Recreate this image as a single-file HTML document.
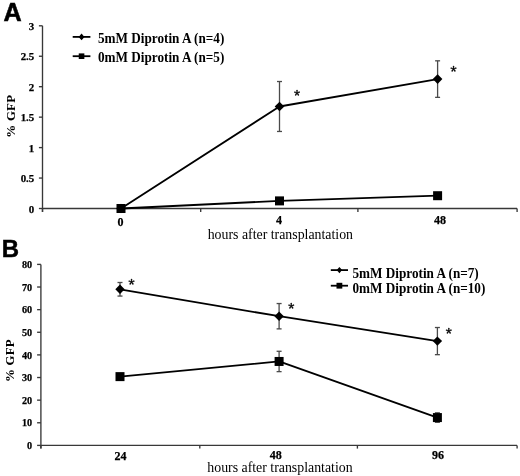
<!DOCTYPE html>
<html><head><meta charset="utf-8"><style>
html,body{margin:0;padding:0;background:#fff;}
body{width:520px;height:476px;overflow:hidden;}
svg{display:block;}
.tl{font-family:'Liberation Serif', 'Times New Roman', serif;font-weight:bold;font-size:10.8px;fill:#000;stroke:#000;stroke-width:0.25px;}
.xl{font-family:'Liberation Serif', 'Times New Roman', serif;font-weight:bold;font-size:12px;fill:#000;stroke:#000;stroke-width:0.25px;}
.xt{font-family:'Liberation Serif', 'Times New Roman', serif;font-size:13.85px;fill:#000;}
.yt{font-family:'Liberation Serif', 'Times New Roman', serif;font-weight:bold;font-size:12.9px;fill:#000;letter-spacing:0.2px;}
.lg{font-family:'Liberation Serif', 'Times New Roman', serif;font-weight:bold;fill:#000;}
.st{font-family:'Noto Serif CJK SC','Liberation Serif',serif;font-weight:bold;font-size:12.5px;fill:#000;stroke:#000;stroke-width:0.35px;}
.pl{font-family:'Liberation Sans', Arial, sans-serif;font-weight:bold;font-size:24.7px;fill:#000;stroke:#000;stroke-width:0.5px;}
</style></head><body>
<svg width="520" height="476" viewBox="0 0 520 476">
<rect width="520" height="476" fill="#fff"/>
<text transform="translate(3.4,20.7) scale(1.02,1.07)" class="pl">A</text>
<text transform="translate(1.7,257.0) scale(0.97,1.0)" class="pl">B</text>
<line x1="42.5" y1="25.8" x2="42.5" y2="212.0" stroke="#383838" stroke-width="1.35"/>
<line x1="38.9" y1="208.50" x2="42.5" y2="208.50" stroke="#383838" stroke-width="1.35"/>
<text x="34.3" y="212.50" text-anchor="end" class="tl" style="font-size:10.9px">0</text>
<line x1="38.9" y1="178.05" x2="42.5" y2="178.05" stroke="#383838" stroke-width="1.35"/>
<text x="34.3" y="182.05" text-anchor="end" class="tl" style="font-size:10.9px">0.5</text>
<line x1="38.9" y1="147.60" x2="42.5" y2="147.60" stroke="#383838" stroke-width="1.35"/>
<text x="34.3" y="151.60" text-anchor="end" class="tl" style="font-size:10.9px">1</text>
<line x1="38.9" y1="117.15" x2="42.5" y2="117.15" stroke="#383838" stroke-width="1.35"/>
<text x="34.3" y="121.15" text-anchor="end" class="tl" style="font-size:10.9px">1.5</text>
<line x1="38.9" y1="86.70" x2="42.5" y2="86.70" stroke="#383838" stroke-width="1.35"/>
<text x="34.3" y="90.70" text-anchor="end" class="tl" style="font-size:10.9px">2</text>
<line x1="38.9" y1="56.25" x2="42.5" y2="56.25" stroke="#383838" stroke-width="1.35"/>
<text x="34.3" y="60.25" text-anchor="end" class="tl" style="font-size:10.9px">2.5</text>
<line x1="38.9" y1="25.80" x2="42.5" y2="25.80" stroke="#383838" stroke-width="1.35"/>
<text x="34.3" y="29.80" text-anchor="end" class="tl" style="font-size:10.9px">3</text>
<line x1="42.5" y1="208.5" x2="517.1" y2="208.5" stroke="#383838" stroke-width="1.35"/>
<line x1="42.50" y1="208.5" x2="42.50" y2="212.0" stroke="#383838" stroke-width="1.35"/>
<line x1="200.70" y1="208.5" x2="200.70" y2="212.0" stroke="#383838" stroke-width="1.35"/>
<line x1="357.90" y1="208.5" x2="357.90" y2="212.0" stroke="#383838" stroke-width="1.35"/>
<line x1="517.10" y1="208.5" x2="517.10" y2="212.0" stroke="#383838" stroke-width="1.35"/>
<text x="120.40" y="226.00" text-anchor="middle" class="xl">0</text>
<text x="279.00" y="223.60" text-anchor="middle" class="xl">4</text>
<text x="440.00" y="223.60" text-anchor="middle" class="xl">48</text>
<text x="207.7" y="239.2" class="xt">hours after transplantation</text>
<text transform="translate(14.8,116.2) rotate(-90)" text-anchor="middle" class="yt">% GFP</text>
<line x1="279.50" y1="81.52" x2="279.50" y2="131.46" stroke="#4a4a4a" stroke-width="1.3"/>
<line x1="277.00" y1="81.52" x2="282.00" y2="81.52" stroke="#4a4a4a" stroke-width="1.3"/>
<line x1="277.00" y1="131.46" x2="282.00" y2="131.46" stroke="#4a4a4a" stroke-width="1.3"/>
<line x1="437.60" y1="60.82" x2="437.60" y2="97.36" stroke="#4a4a4a" stroke-width="1.3"/>
<line x1="435.10" y1="60.82" x2="440.10" y2="60.82" stroke="#4a4a4a" stroke-width="1.3"/>
<line x1="435.10" y1="97.36" x2="440.10" y2="97.36" stroke="#4a4a4a" stroke-width="1.3"/>
<polyline points="121.00,208.50 279.50,106.49 437.60,79.09" fill="none" stroke="#000" stroke-width="1.8" stroke-linejoin="round"/>
<polygon points="121.00,203.70 125.80,208.50 121.00,213.30 116.20,208.50" fill="#000"/>
<polygon points="279.50,101.69 284.30,106.49 279.50,111.29 274.70,106.49" fill="#000"/>
<polygon points="437.60,74.29 442.40,79.09 437.60,83.89 432.80,79.09" fill="#000"/>
<polyline points="121.00,208.50 279.50,200.89 437.60,195.71" fill="none" stroke="#000" stroke-width="1.8" stroke-linejoin="round"/>
<rect x="116.50" y="204.00" width="9.00" height="9.00" fill="#000"/>
<rect x="275.00" y="196.39" width="9.00" height="9.00" fill="#000"/>
<rect x="433.10" y="191.21" width="9.00" height="9.00" fill="#000"/>
<text x="297.1" y="100.2" text-anchor="middle" class="st">*</text>
<text x="453.6" y="75.6" text-anchor="middle" class="st">*</text>
<line x1="72.7" y1="36.9" x2="90.4" y2="36.9" stroke="#000" stroke-width="1.8"/>
<polygon points="81.55,33.50 84.45,36.90 81.55,40.30 78.65,36.90" fill="#000"/>
<text transform="translate(98,43.00) scale(1,1.05)" class="lg" style="font-size:13.2px">5mM Diprotin A (n=4)</text>
<line x1="72.7" y1="56.2" x2="90.4" y2="56.2" stroke="#000" stroke-width="1.8"/>
<rect x="78.75" y="53.40" width="5.60" height="5.60" fill="#000"/>
<text transform="translate(98,62.30) scale(1,1.05)" class="lg" style="font-size:13.2px">0mM Diprotin A (n=5)</text>
<line x1="40.9" y1="264.4" x2="40.9" y2="448.59999999999997" stroke="#383838" stroke-width="1.35"/>
<line x1="37.1" y1="445.40" x2="40.9" y2="445.40" stroke="#383838" stroke-width="1.35"/>
<text x="32.2" y="449.00" text-anchor="end" class="tl" style="font-size:10.2px">0</text>
<line x1="37.1" y1="422.77" x2="40.9" y2="422.77" stroke="#383838" stroke-width="1.35"/>
<text x="32.2" y="426.38" text-anchor="end" class="tl" style="font-size:10.2px">10</text>
<line x1="37.1" y1="400.15" x2="40.9" y2="400.15" stroke="#383838" stroke-width="1.35"/>
<text x="32.2" y="403.75" text-anchor="end" class="tl" style="font-size:10.2px">20</text>
<line x1="37.1" y1="377.52" x2="40.9" y2="377.52" stroke="#383838" stroke-width="1.35"/>
<text x="32.2" y="381.12" text-anchor="end" class="tl" style="font-size:10.2px">30</text>
<line x1="37.1" y1="354.90" x2="40.9" y2="354.90" stroke="#383838" stroke-width="1.35"/>
<text x="32.2" y="358.50" text-anchor="end" class="tl" style="font-size:10.2px">40</text>
<line x1="37.1" y1="332.27" x2="40.9" y2="332.27" stroke="#383838" stroke-width="1.35"/>
<text x="32.2" y="335.88" text-anchor="end" class="tl" style="font-size:10.2px">50</text>
<line x1="37.1" y1="309.65" x2="40.9" y2="309.65" stroke="#383838" stroke-width="1.35"/>
<text x="32.2" y="313.25" text-anchor="end" class="tl" style="font-size:10.2px">60</text>
<line x1="37.1" y1="287.02" x2="40.9" y2="287.02" stroke="#383838" stroke-width="1.35"/>
<text x="32.2" y="290.62" text-anchor="end" class="tl" style="font-size:10.2px">70</text>
<line x1="37.1" y1="264.40" x2="40.9" y2="264.40" stroke="#383838" stroke-width="1.35"/>
<text x="32.2" y="268.00" text-anchor="end" class="tl" style="font-size:10.2px">80</text>
<line x1="40.9" y1="445.4" x2="517.1" y2="445.4" stroke="#383838" stroke-width="1.35"/>
<line x1="40.90" y1="445.4" x2="40.90" y2="448.59999999999997" stroke="#383838" stroke-width="1.35"/>
<line x1="199.80" y1="445.4" x2="199.80" y2="448.59999999999997" stroke="#383838" stroke-width="1.35"/>
<line x1="357.40" y1="445.4" x2="357.40" y2="448.59999999999997" stroke="#383838" stroke-width="1.35"/>
<line x1="517.10" y1="445.4" x2="517.10" y2="448.59999999999997" stroke="#383838" stroke-width="1.35"/>
<text x="120.40" y="460.00" text-anchor="middle" class="xl">24</text>
<text x="275.80" y="459.40" text-anchor="middle" class="xl">48</text>
<text x="438.00" y="459.40" text-anchor="middle" class="xl">96</text>
<text x="207.3" y="472.4" class="xt">hours after transplantation</text>
<text transform="translate(13.6,360.6) rotate(-90)" text-anchor="middle" class="yt">% GFP</text>
<line x1="120.00" y1="282.50" x2="120.00" y2="296.07" stroke="#4a4a4a" stroke-width="1.3"/>
<line x1="117.50" y1="282.50" x2="122.50" y2="282.50" stroke="#4a4a4a" stroke-width="1.3"/>
<line x1="117.50" y1="296.07" x2="122.50" y2="296.07" stroke="#4a4a4a" stroke-width="1.3"/>
<line x1="279.10" y1="303.54" x2="279.10" y2="328.88" stroke="#4a4a4a" stroke-width="1.3"/>
<line x1="276.60" y1="303.54" x2="281.60" y2="303.54" stroke="#4a4a4a" stroke-width="1.3"/>
<line x1="276.60" y1="328.88" x2="281.60" y2="328.88" stroke="#4a4a4a" stroke-width="1.3"/>
<line x1="437.40" y1="327.52" x2="437.40" y2="354.67" stroke="#4a4a4a" stroke-width="1.3"/>
<line x1="434.90" y1="327.52" x2="439.90" y2="327.52" stroke="#4a4a4a" stroke-width="1.3"/>
<line x1="434.90" y1="354.67" x2="439.90" y2="354.67" stroke="#4a4a4a" stroke-width="1.3"/>
<polyline points="120.00,289.29 279.10,316.21 437.40,341.10" fill="none" stroke="#000" stroke-width="1.8" stroke-linejoin="round"/>
<polygon points="120.00,284.59 124.70,289.29 120.00,293.99 115.30,289.29" fill="#000"/>
<polygon points="279.10,311.51 283.80,316.21 279.10,320.91 274.40,316.21" fill="#000"/>
<polygon points="437.40,336.40 442.10,341.10 437.40,345.80 432.70,341.10" fill="#000"/>
<line x1="279.10" y1="351.28" x2="279.10" y2="371.64" stroke="#4a4a4a" stroke-width="1.3"/>
<line x1="276.60" y1="351.28" x2="281.60" y2="351.28" stroke="#4a4a4a" stroke-width="1.3"/>
<line x1="276.60" y1="371.64" x2="281.60" y2="371.64" stroke="#4a4a4a" stroke-width="1.3"/>
<line x1="437.40" y1="412.82" x2="437.40" y2="422.32" stroke="#4a4a4a" stroke-width="1.3"/>
<line x1="434.90" y1="412.82" x2="439.90" y2="412.82" stroke="#4a4a4a" stroke-width="1.3"/>
<line x1="434.90" y1="422.32" x2="439.90" y2="422.32" stroke="#4a4a4a" stroke-width="1.3"/>
<polyline points="120.00,376.62 279.10,361.46 437.40,417.57" fill="none" stroke="#000" stroke-width="1.8" stroke-linejoin="round"/>
<rect x="115.50" y="372.12" width="9.00" height="9.00" fill="#000"/>
<rect x="274.60" y="356.96" width="9.00" height="9.00" fill="#000"/>
<rect x="432.90" y="413.07" width="9.00" height="9.00" fill="#000"/>
<text x="131.5" y="288.6" text-anchor="middle" class="st">*</text>
<text x="291.4" y="313.4" text-anchor="middle" class="st">*</text>
<text x="448.9" y="338.2" text-anchor="middle" class="st">*</text>
<line x1="330.8" y1="270.1" x2="348" y2="270.1" stroke="#000" stroke-width="1.8"/>
<polygon points="339.40,266.90 342.10,270.10 339.40,273.30 336.70,270.10" fill="#000"/>
<text transform="translate(352.5,277.80) scale(1,1.03)" class="lg" style="font-size:13.2px">5mM Diprotin A (n=7)</text>
<line x1="330.8" y1="285.7" x2="348" y2="285.7" stroke="#000" stroke-width="1.8"/>
<rect x="336.50" y="282.80" width="5.80" height="5.80" fill="#000"/>
<text transform="translate(352.5,293.40) scale(1,1.03)" class="lg" style="font-size:13.2px">0mM Diprotin A (n=10)</text>
</svg>
</body></html>
